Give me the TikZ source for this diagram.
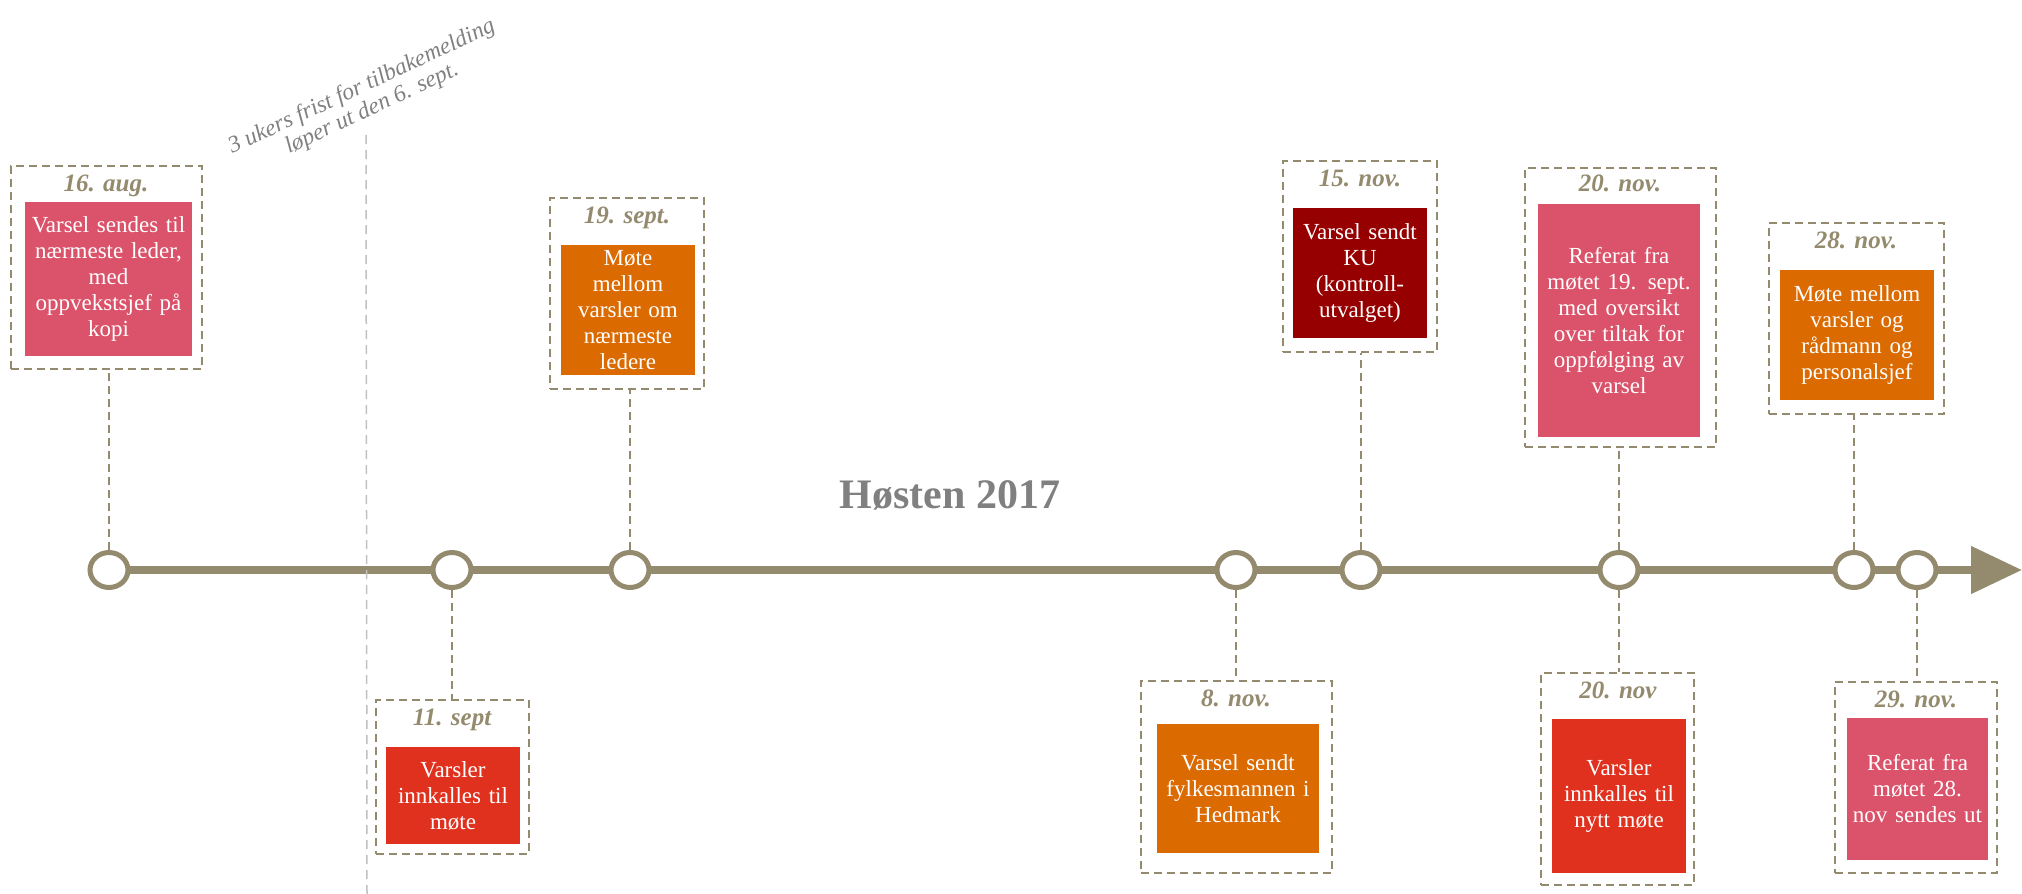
\documentclass[tikz,border=0pt]{standalone}
\usepackage{fontspec}
\setmainfont{Liberation Serif}
\usetikzlibrary{arrows.meta,shapes.geometric,backgrounds}
\definecolor{tl}{HTML}{948A6E}
\definecolor{pinkc}{HTML}{DB536A}
\definecolor{orangec}{HTML}{DB6A00}
\definecolor{redc}{HTML}{E0311F}
\definecolor{darkredc}{HTML}{960000}
\definecolor{graytxt}{HTML}{808080}
\definecolor{grayline}{HTML}{C0C0C0}
\begin{document}
\begin{tikzpicture}[x=1pt,y=-1pt,
  evbox/.style={fill=#1, text=white, inner sep=0pt, align=center, font=\fontsize{23}{26}\selectfont},
  datelbl/.style={text=tl, font=\fontsize{25}{28}\selectfont\bfseries\itshape, inner sep=0pt, anchor=base},
  dot/.style={ellipse, draw=tl, line width=5pt, fill=white, minimum width=38pt, minimum height=35pt, inner sep=0pt},
  conn/.style={draw=tl, line width=2pt, dash pattern=on 8pt off 5pt},
  frame/.style={draw=tl, line width=2pt, dash pattern=on 8pt off 5pt, inner sep=0pt},
  grayln/.style={draw=grayline, line width=1.5pt, dash pattern=on 9pt off 6pt},
]
\useasboundingbox (0,0) rectangle (2022,894);

% dots on the timeline
\node[dot] (d1) at (109,570) {};
\node[dot] (d2) at (452,570) {};
\node[dot] (d3) at (630,570) {};
\node[dot] (d4) at (1236,570) {};
\node[dot] (d5) at (1361,570) {};
\node[dot] (d6) at (1619,570) {};
\node[dot] (d7) at (1854,570) {};
\node[dot] (d8) at (1917,570) {};
\coordinate (tip) at (2022,570);
\coordinate (gTop) at (366,135);
\coordinate (gBot) at (367,894);

\begin{pgfonlayer}{background}
  \draw[tl, line width=8pt, -{Triangle[length=51pt,width=46pt]}] (d1.center) -- (tip);
  \draw[grayln] (gTop) -- (gBot);
\end{pgfonlayer}

% title
\node[text=graytxt, font=\fontsize{42}{46}\selectfont\bfseries, anchor=base, inner sep=0pt] (title) at (950,508) {Høsten 2017};

% note
\node[rotate=25, text=graytxt, font=\fontsize{23.5}{24}\selectfont\itshape, align=center, inner sep=0pt] (note) at (367,98) {3 ukers frist for tilbakemelding\\løper ut den 6. sept.};

% A: 16. aug.
\node[frame, minimum width=191pt, minimum height=203pt] (aOut) at (106.5,267.5) {};
\node[datelbl] (aDate) at (106,191) {16. aug.};
\node[evbox=pinkc, minimum width=167pt, minimum height=154pt, text width=159pt] (aBox) at (108.5,279) {Varsel sendes til\\nærmeste leder,\\med\\oppvekstsjef på\\kopi};
\draw[conn] (d1.north) -- (d1.north |- aOut.south);

% B: 11. sept
\node[frame, minimum width=153pt, minimum height=154pt] (bOut) at (452.5,777) {};
\node[datelbl] (bDate) at (452,725) {11. sept};
\node[evbox=redc, minimum width=134pt, minimum height=97pt, text width=126pt] (bBox) at (453,795.5) {Varsler\\innkalles til\\møte};
\draw[conn] (d2.south) -- (d2.south |- bOut.north);

% C: 19. sept.
\node[frame, minimum width=154pt, minimum height=191pt] (cOut) at (627,293.5) {};
\node[datelbl] (cDate) at (627,223) {19. sept.};
\node[evbox=orangec, minimum width=134pt, minimum height=130pt, text width=126pt] (cBox) at (628,310) {Møte\\mellom\\varsler om\\nærmeste\\ledere};
\draw[conn] (d3.north) -- (d3.north |- cOut.south);

% D: 8. nov.
\node[frame, minimum width=191pt, minimum height=192pt] (dOut) at (1236.5,777) {};
\node[datelbl] (dDate) at (1236,706) {8. nov.};
\node[evbox=orangec, minimum width=162pt, minimum height=129pt, text width=154pt] (dBox) at (1238,788.5) {Varsel sendt\\fylkesmannen i\\Hedmark};
\draw[conn] (d4.south) -- (d4.south |- dOut.north);

% E: 15. nov.
\node[frame, minimum width=154pt, minimum height=191pt] (eOut) at (1360,256.5) {};
\node[datelbl] (eDate) at (1360,186) {15. nov.};
\node[evbox=darkredc, minimum width=134pt, minimum height=130pt, text width=126pt] (eBox) at (1360,273) {Varsel sendt\\KU\\(kontroll-\\utvalget)};
\draw[conn] (d5.north) -- (d5.north |- eOut.south);

% F: 20. nov. (above)
\node[frame, minimum width=191pt, minimum height=279pt] (fOut) at (1620.5,307.5) {};
\node[datelbl] (fDate) at (1620,191) {20. nov.};
\node[evbox=pinkc, minimum width=162pt, minimum height=233pt, text width=154pt] (fBox) at (1619,320.5) {Referat fra\\møtet 19. sept.\\med oversikt\\over tiltak for\\oppfølging av\\varsel};
\draw[conn] (d6.north) -- (d6.north |- fOut.south);

% G: 28. nov.
\node[frame, minimum width=175pt, minimum height=191pt] (gOut) at (1856.5,318.5) {};
\node[datelbl] (gDate) at (1856,248) {28. nov.};
\node[evbox=orangec, minimum width=154pt, minimum height=130pt, text width=146pt] (gBox) at (1857,335) {Møte mellom\\varsler og\\rådmann og\\personalsjef};
\draw[conn] (d7.north) -- (d7.north |- gOut.south);

% H: 20. nov (below)
\node[frame, minimum width=153pt, minimum height=212pt] (hOut) at (1617.5,779) {};
\node[datelbl] (hDate) at (1618,698) {20. nov};
\node[evbox=redc, minimum width=134pt, minimum height=154pt, text width=126pt] (hBox) at (1619,796) {Varsler\\innkalles til\\nytt møte};
\draw[conn] (d6.south) -- (d6.south |- hOut.north);

% I: 29. nov.
\node[frame, minimum width=162pt, minimum height=191pt] (iOut) at (1916,777.5) {};
\node[datelbl] (iDate) at (1916,707) {29. nov.};
\node[evbox=pinkc, minimum width=141pt, minimum height=142pt, text width=135pt] (iBox) at (1917.5,789) {Referat fra\\møtet 28.\\nov sendes ut};
\draw[conn] (d8.south) -- (d8.south |- iOut.north);
\end{tikzpicture}
\end{document}
